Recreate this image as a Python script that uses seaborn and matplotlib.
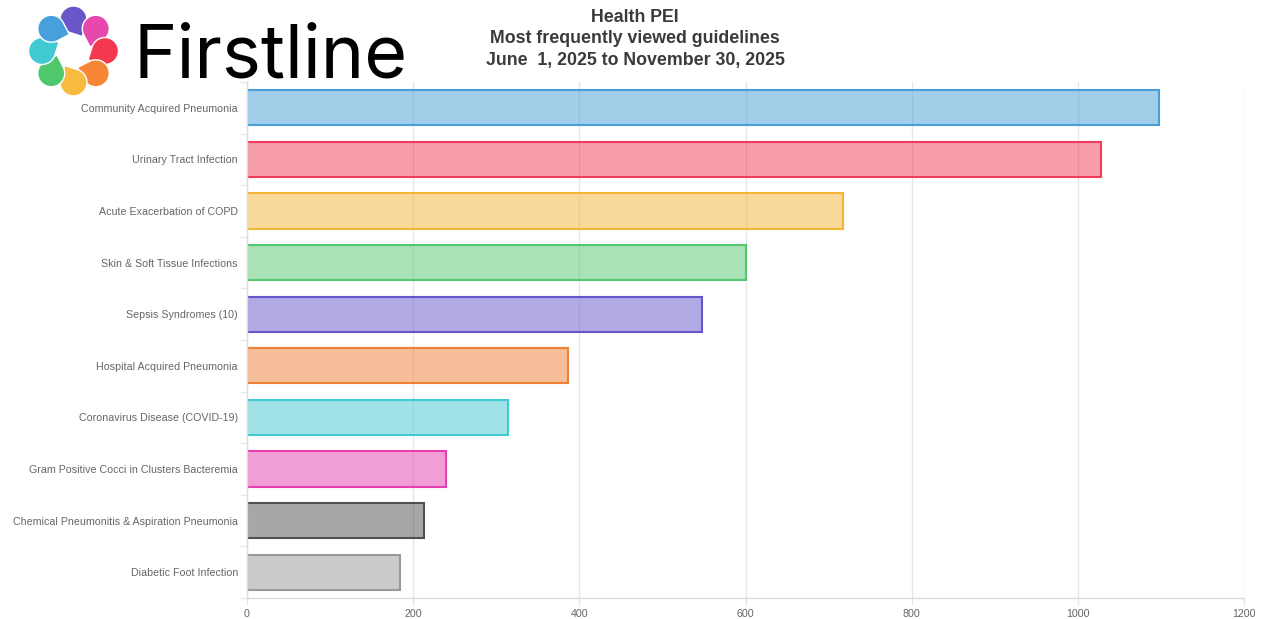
import numpy as np
import pandas as pd
import matplotlib
matplotlib.use("Agg")
import matplotlib.pyplot as plt
from matplotlib.patches import Polygon
from matplotlib.ticker import FixedLocator
import seaborn as sns

# data
guidelines = [
    "Community Acquired Pneumonia",
    "Urinary Tract Infection",
    "Acute Exacerbation of COPD",
    "Skin & Soft Tissue Infections",
    "Sepsis Syndromes (10)",
    "Hospital Acquired Pneumonia",
    "Coronavirus Disease (COVID-19)",
    "Gram Positive Cocci in Clusters Bacteremia",
    "Chemical Pneumonitis & Aspiration Pneumonia",
    "Diabetic Foot Infection",
]
views = [1098, 1028, 717, 600, 548, 386, 314, 239, 213, 184]
border_colors = ["#479fd6", "#f23c58", "#f3b536", "#53c76d", "#6557cb", "#f17f36",
                 "#42c9d1", "#e53fb1", "#505050", "#999999"]
xticks = [0, 200, 400, 600, 800, 1000, 1200]
title_lines = ["Health PEI", "Most frequently viewed guidelines",
               "June  1, 2025 to November 30, 2025"]

df = pd.DataFrame({"guideline": guidelines, "views": views})

sns.set_theme(style="white")
plt.rcParams["font.family"] = ["Liberation Sans", "DejaVu Sans"]

W, H = 1265, 619
fig = plt.figure(figsize=(W / 100, H / 100), dpi=100)
ax = fig.add_axes([247 / W, 1 - 598 / H, (1244 - 247) / W, (598 - 82) / H])

sns.barplot(data=df, x="views", y="guideline", hue="guideline", palette=border_colors,
            saturation=1, width=0.68, legend=False, ax=ax)

for cont, col in zip(ax.containers, border_colors):
    for bar in cont:
        rgb = matplotlib.colors.to_rgb(col)
        bar.set_facecolor((*rgb, 0.5))
        bar.set_edgecolor(col)
        bar.set_linewidth(1.5)

ax.set_xlim(0, 1200)
ax.set_ylim(len(guidelines) - 0.5, -0.5)
ax.set_xticks(xticks)
ax.set_xticklabels([str(t) for t in xticks])
ax.set_xlabel("")
ax.set_ylabel("")
ax.set_axisbelow(True)
ax.grid(axis="x", color="#e6e6e6", linewidth=1)
ax.grid(axis="y", visible=False)

# category boundary ticks like the original
ax.yaxis.set_minor_locator(FixedLocator(np.arange(-0.5, len(guidelines), 1)))
ax.tick_params(axis="y", which="major", length=0, pad=6.5, labelsize=7.7, labelcolor="#666666")
ax.tick_params(axis="y", which="minor", length=5, width=1, color="#e6e6e6", left=True)
ax.tick_params(axis="x", which="major", length=5, width=1, color="#e6e6e6", pad=3,
               labelsize=7.7, labelcolor="#666666", bottom=True)

for s in ["top", "right"]:
    ax.spines[s].set_visible(False)
for s in ["left", "bottom"]:
    ax.spines[s].set_color("#dcdcdc")
    ax.spines[s].set_linewidth(1)

# title
for i, line in enumerate(title_lines):
    fig.text(0.502, 1 - (17 + 21.7 * i) / H, line, ha="center", va="center",
             fontsize=12.8, fontweight="bold", color="#3a3a3a")

# logo
lax = fig.add_axes([0, 0, 1, 1], zorder=5)
lax.set_xlim(0, W)
lax.set_ylim(H, 0)
lax.axis("off")
lax.patch.set_alpha(0)

petal_colors = ["#6a55c9", "#e748ae", "#f5384f", "#f68535",
                "#f9bb3f", "#4ec86a", "#41c9d2", "#479fdc"]
cx, cy = 73.5, 51
for k, pc in enumerate(petal_colors):
    th = np.radians(90 - 45 * k)
    c = np.array([cx + 31.5 * np.cos(th), cy - 31.5 * np.sin(th)])
    tp = th - np.radians(31)
    p = np.array([cx + 17 * np.cos(tp), cy - 17 * np.sin(tp)])
    r = 13.5
    v = p - c
    L = np.hypot(*v)
    phi = np.arctan2(v[1], v[0])
    a = np.arccos(r / L)
    angs = np.linspace(phi + a, phi + 2 * np.pi - a, 40)
    pts = np.column_stack([c[0] + r * np.cos(angs), c[1] + r * np.sin(angs)])
    pts = np.vstack([pts, p])
    lax.add_patch(Polygon(pts, closed=True, facecolor=pc, edgecolor="white", linewidth=1.0))

lax.text(133, 78, "Firstline", fontsize=53, family=["Inter", "DejaVu Sans"],
         color="black", ha="left", va="baseline")

fig.savefig("out.png", dpi=100)
